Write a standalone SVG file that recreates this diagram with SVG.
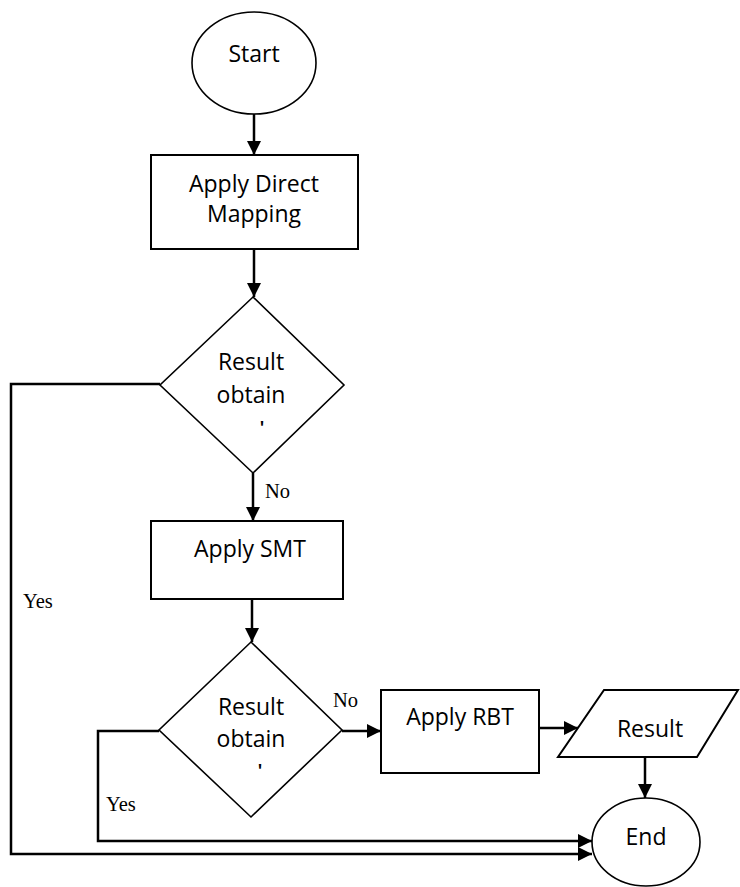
<svg xmlns="http://www.w3.org/2000/svg" width="740" height="887" viewBox="0 0 740 887">
  <style>
    .shape { fill: #ffffff; stroke: #000000; stroke-width: 2; }
    .thin { stroke-width: 1.6; }
    .label { font-family: "Open Sans", "Liberation Sans", sans-serif; font-size: 23px; fill: #000000; text-anchor: middle; }
    .tick { font-family: "Open Sans", "Liberation Sans", sans-serif; font-size: 17px; font-weight: 700; fill: #000000; text-anchor: middle; }
    .branch { font-family: "Liberation Serif", "Times New Roman", serif; font-size: 20.5px; fill: #000000; }
    .wire { fill: none; stroke: #000000; stroke-width: 2.5; marker-end: url(#arrow); }
  </style>
  <defs>
    <marker id="arrow" viewBox="0 0 14 14" refX="14" refY="7" markerWidth="14" markerHeight="14" markerUnits="userSpaceOnUse" orient="auto">
      <path d="M0,0 L14,7 L0,14 z" fill="#000000"/>
    </marker>
  </defs>

  <rect width="740" height="887" fill="#ffffff"/>

  <!-- connectors -->
  <g id="connectors">
    <path class="wire" d="M254,114 V155"/>
    <path class="wire" d="M254,249 V297"/>
    <path class="wire" d="M253,473 V521"/>
    <path class="wire" d="M252,599 V642"/>
    <path class="wire" d="M160,384 H11 V854 H592"/>
    <path class="wire" d="M159,731 H98 V841 H592"/>
    <path class="wire" d="M342,731 H381"/>
    <path class="wire" d="M539,728 H578"/>
    <path class="wire" d="M645,757 V798"/>
    <text class="branch" x="265" y="498">No</text>
    <text class="branch" x="23" y="608">Yes</text>
    <text class="branch" x="333" y="707">No</text>
    <text class="branch" x="106" y="811">Yes</text>
  </g>

  <!-- start terminal -->
  <g id="start">
    <ellipse class="shape thin" cx="254" cy="63" rx="62" ry="51"/>
    <text class="label" x="254" y="62">Start</text>
  </g>

  <!-- direct mapping step -->
  <g id="direct-mapping">
    <rect class="shape" x="151" y="155" width="207" height="94"/>
    <text class="label" x="254" y="192">Apply Direct</text>
    <text class="label" x="254" y="222">Mapping</text>
  </g>

  <!-- first decision -->
  <g id="decision-1">
    <polygon class="shape thin" points="253,297 344,385 253,473 160,385"/>
    <text class="label" x="251" y="370">Result</text>
    <text class="label" x="251" y="403">obtain</text>
    <text class="tick" x="262" y="434">'</text>
  </g>

  <!-- SMT step -->
  <g id="smt">
    <rect class="shape" x="151" y="521" width="192" height="78"/>
    <text class="label" x="250" y="557">Apply SMT</text>
  </g>

  <!-- second decision -->
  <g id="decision-2">
    <polygon class="shape thin" points="251,642 342,730 251,817 159,730"/>
    <text class="label" x="251" y="715">Result</text>
    <text class="label" x="251" y="747">obtain</text>
    <text class="tick" x="260" y="777">'</text>
  </g>

  <!-- RBT step -->
  <g id="rbt">
    <rect class="shape" x="381" y="690" width="158" height="83"/>
    <text class="label" x="460" y="725">Apply RBT</text>
  </g>

  <!-- result output -->
  <g id="result">
    <polygon class="shape" points="604,690 738,690 697,757 558,757"/>
    <text class="label" x="650" y="737">Result</text>
  </g>

  <!-- end terminal -->
  <g id="end">
    <ellipse class="shape thin" cx="646" cy="842" rx="54" ry="44"/>
    <text class="label" x="646" y="845">End</text>
  </g>
</svg>
